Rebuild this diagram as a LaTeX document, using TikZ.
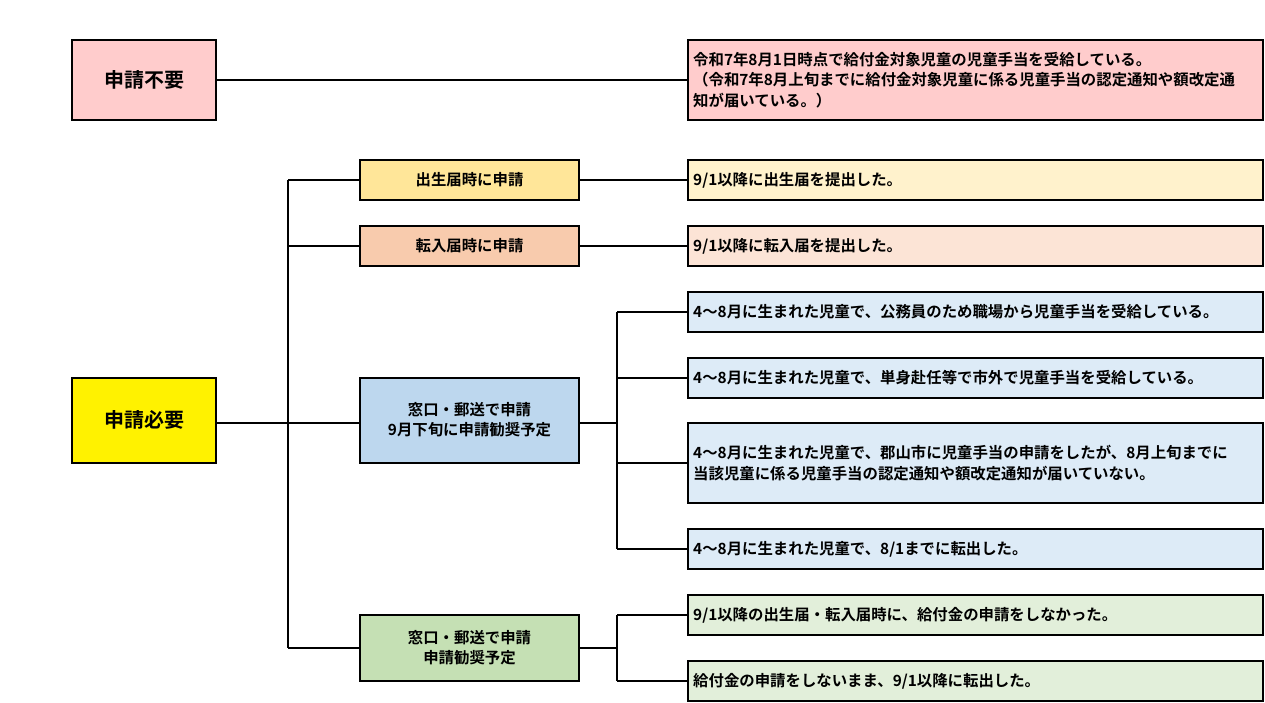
\documentclass[tikz,border=0pt]{standalone}
\usepackage{fontspec}
\setmainfont{Noto Sans CJK JP}[BoldFont={Noto Sans CJK JP Bold}]
\begin{document}
\begin{tikzpicture}[x=1pt,y=-1pt,
  bx/.style={draw=black,line width=1.2pt},
  ln/.style={draw=black,line width=1.2pt},
  tx/.style={font=\bfseries\fontsize{15.4}{20.5}\selectfont,inner sep=0pt,align=left,anchor=west},
  cx/.style={font=\bfseries\fontsize{15.4}{20}\selectfont,inner sep=0pt,align=center},
  bigt/.style={font=\bfseries\fontsize{20}{22}\selectfont,inner sep=0pt}]
\useasboundingbox (0,0) rectangle (1265,703);
\definecolor{pk}{HTML}{FFCCCC}
\definecolor{yl}{HTML}{FFE699}\definecolor{ylL}{HTML}{FFF2CC}
\definecolor{or}{HTML}{F8CBAD}\definecolor{orL}{HTML}{FCE4D6}
\definecolor{bl}{HTML}{BDD7EE}\definecolor{blL}{HTML}{DDEBF7}
\definecolor{gr}{HTML}{C5E0B4}\definecolor{grL}{HTML}{E2EFDA}
% left
\path[bx,fill=pk] (72,40) rectangle (216,120);
\node[bigt] (A) at (144,80) {申請不要};
\path[bx,fill=yellow] (72,378) rectangle (216,463);
\node[bigt] (B) at (144,420) {申請必要};
% middle
\path[bx,fill=yl] (360,160) rectangle (579,200);
\node[cx] (M1) at (469.5,180) {出生届時に申請};
\path[bx,fill=or] (360,226) rectangle (579,266);
\node[cx] (M2) at (469.5,246) {転入届時に申請};
\path[bx,fill=bl] (360,378) rectangle (579,463);
\node[cx] (M3) at (469.5,420) {窓口・郵送で申請\\9月下旬に申請勧奨予定};
\path[bx,fill=gr] (360,615) rectangle (579,681);
\node[cx] (M4) at (469.5,648) {窓口・郵送で申請\\申請勧奨予定};
% right
\path[bx,fill=pk] (688,40) rectangle (1263,120);
\node[tx] (R0) at (693,80) {令和7年8月1日時点で給付金対象児童の児童手当を受給している。\\（令和7年8月上旬までに給付金対象児童に係る児童手当の認定通知や額改定通\\知が届いている。）};
\path[bx,fill=ylL] (688,160) rectangle (1263,200);
\node[tx] (R1) at (693,180) {9/1以降に出生届を提出した。};
\path[bx,fill=orL] (688,226) rectangle (1263,266);
\node[tx] (R2) at (693,246) {9/1以降に転入届を提出した。};
\path[bx,fill=blL] (688,292) rectangle (1263,332);
\node[tx] (R3) at (693,312) {4～8月に生まれた児童で、公務員のため職場から児童手当を受給している。};
\path[bx,fill=blL] (688,358) rectangle (1263,398);
\node[tx] (R4) at (693,378) {4～8月に生まれた児童で、単身赴任等で市外で児童手当を受給している。};
\path[bx,fill=blL] (688,423) rectangle (1263,503);
\node[tx] (R5) at (693,463) {4～8月に生まれた児童で、郡山市に児童手当の申請をしたが、8月上旬までに\\当該児童に係る児童手当の認定通知や額改定通知が届いていない。};
\path[bx,fill=blL] (688,529) rectangle (1263,569);
\node[tx] (R6) at (693,549) {4～8月に生まれた児童で、8/1までに転出した。};
\path[bx,fill=grL] (688,595) rectangle (1263,635);
\node[tx] (R7) at (693,615) {9/1以降の出生届・転入届時に、給付金の申請をしなかった。};
\path[bx,fill=grL] (688,661) rectangle (1263,701);
\node[tx] (R8) at (693,681) {給付金の申請をしないまま、9/1以降に転出した。};
% connectors
\draw[ln] (216,80) -- (688,80);
\draw[ln] (216,423) -- (360,423);
\draw[ln] (288,180) -- (288,648);
\draw[ln] (288,180) -- (360,180);
\draw[ln] (288,246) -- (360,246);
\draw[ln] (288,648) -- (360,648);
\draw[ln] (579,180) -- (688,180);
\draw[ln] (579,246) -- (688,246);
\draw[ln] (579,423) -- (617,423);
\draw[ln] (617,312) -- (617,549);
\foreach \y in {312,378,463,549} \draw[ln] (617,\y) -- (688,\y);
\draw[ln] (579,648) -- (617,648);
\draw[ln] (617,615) -- (617,681);
\draw[ln] (617,615) -- (688,615);
\draw[ln] (617,681) -- (688,681);
\end{tikzpicture}
\end{document}
